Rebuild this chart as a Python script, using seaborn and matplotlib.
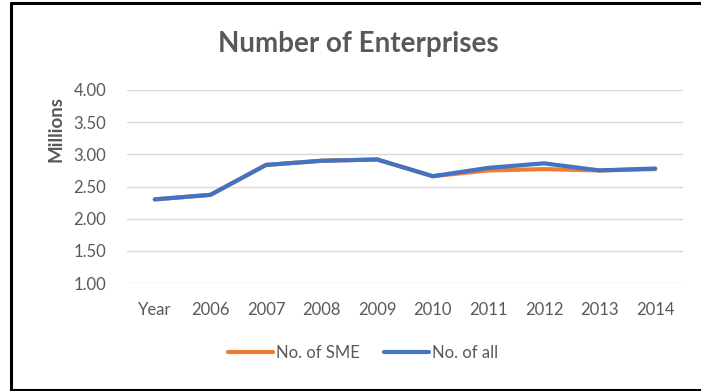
import matplotlib
matplotlib.use("Agg")
import matplotlib.pyplot as plt
from matplotlib.lines import Line2D
import seaborn as sns
import pandas as pd

# Enterprise counts (millions) by year
years = ["Year", "2006", "2007", "2008", "2009", "2010", "2011", "2012", "2013", "2014"]
sme = [2.30, 2.37, 2.835, 2.90, 2.92, 2.66, 2.75, 2.77, 2.75, 2.77]
all_ent = [2.30, 2.37, 2.835, 2.90, 2.92, 2.66, 2.79, 2.86, 2.75, 2.78]
series_names = ["No. of SME", "No. of all"]
y_ticks = [1.00, 1.50, 2.00, 2.50, 3.00, 3.50, 4.00]

sns.set_theme(style="white")
plt.rcParams["font.family"] = ["Lato", "DejaVu Sans"]

df = pd.DataFrame({
    "pos": list(range(len(years))) * 2,
    "value": sme + all_ent,
    "series": [series_names[0]] * len(years) + [series_names[1]] * len(years),
})

colors = {series_names[0]: "#ED7D31", series_names[1]: "#4472C4"}
text_color = "#595959"
lw = 3.0

fig = plt.figure(figsize=(7.01, 3.91), dpi=100)
ax = fig.add_axes([127 / 701, 1 - 283 / 391, 556 / 701, 193 / 391])

sns.lineplot(data=df, x="pos", y="value", hue="series", palette=colors,
             linewidth=lw, ax=ax, legend=False, sort=False)

ax.set_xlim(-0.5, len(years) - 0.5)
ax.set_ylim(1.0, 4.0)
ax.set_yticks(y_ticks)
ax.set_yticklabels([f"{v:.2f}" for v in y_ticks], color=text_color, fontsize=12)
ax.set_xticks(range(len(years)))
ax.set_xticklabels(years, color=text_color, fontsize=12)
ax.tick_params(axis="y", length=0, pad=15)
ax.tick_params(axis="x", length=0, pad=14)
ax.yaxis.grid(True, color="#D9D9D9", linewidth=1.0)
ax.set_axisbelow(True)
for side in ["top", "right", "left", "bottom"]:
    ax.spines[side].set_visible(False)
ax.set_xlabel("")
ax.set_ylabel("")

fig.text(56 / 701, 1 - 129 / 391, "Millions", rotation=90, ha="center", va="center",
         fontsize=13.5, fontweight="bold", color=text_color)

fig.text(358 / 701, 1 - 44 / 391, "Number of Enterprises", ha="center", va="center",
         fontsize=20, fontweight="bold", color=text_color)

handles = [Line2D([0], [0], color=colors[n], linewidth=lw) for n in series_names]
fig.legend(handles, series_names, loc="center", bbox_to_anchor=(363 / 701, 1 - 353 / 391),
           ncol=2, frameon=False, fontsize=12, handlelength=2.7, handletextpad=0.15,
           columnspacing=1.5, labelcolor=text_color)

# Surrounding frame
frame_kw = dict(color="black", linewidth=2.2, transform=fig.transFigure, clip_on=False)
fig.add_artist(Line2D([10.5 / 701, 10.5 / 701], [0, 1 - 2.5 / 391], **frame_kw))
fig.add_artist(Line2D([10.5 / 701, 1], [1 - 2.5 / 391, 1 - 2.5 / 391], **frame_kw))
fig.add_artist(Line2D([10.5 / 701, 1], [1 - 389.5 / 391, 1 - 389.5 / 391], **frame_kw))

fig.savefig("out.png", dpi=100)
